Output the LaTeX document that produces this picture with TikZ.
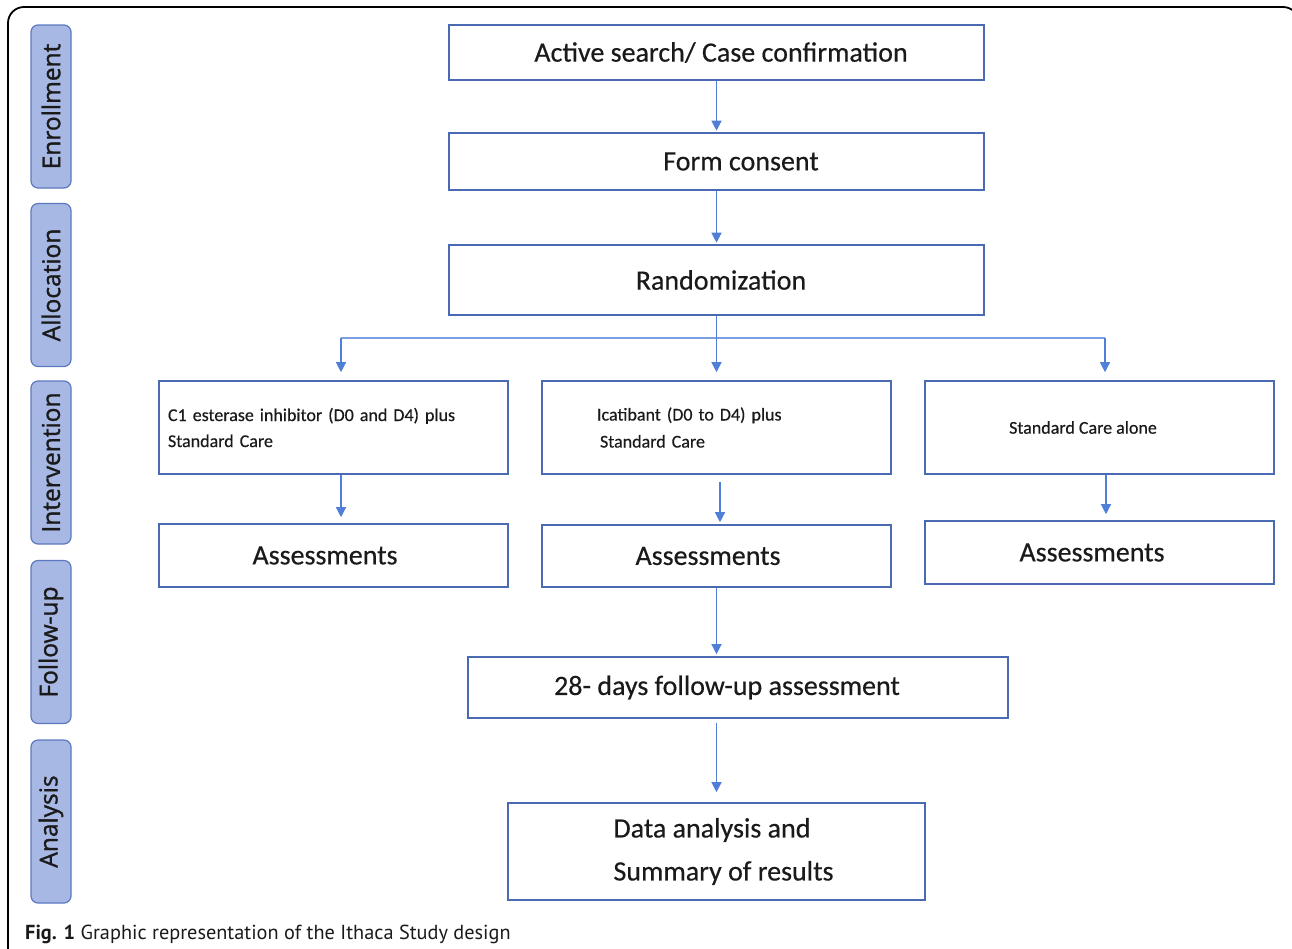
\documentclass[tikz,border=0pt]{standalone}
\usepackage{fontspec}
\setmainfont{Carlito}[FakeBold=0.4]
\newfontfamily\sidefont{Open Sans}[FakeBold=1.2]
\newfontfamily\capfont{PT Sans}
\usetikzlibrary{arrows.meta}
\definecolor{boxblue}{HTML}{4A6BB3}
\definecolor{arrblue}{HTML}{4F7FD6}
\definecolor{sidefill}{HTML}{A7B8E4}
\definecolor{sidedraw}{HTML}{5C78BE}
\definecolor{txt}{HTML}{1A1A1A}
\begin{document}
\begin{tikzpicture}[x=1pt,y=-1pt,
  mbox/.style={draw=boxblue, line width=1.6pt, fill=white, inner sep=0pt, text=txt,
    font=\fontsize{28}{34}\selectfont},
  sbox/.style={draw=boxblue, line width=1.6pt, fill=white, inner sep=0pt, text=txt,
    font=\fontsize{18}{26}\selectfont},
  side/.style={draw=sidedraw, fill=sidefill, rounded corners=7pt, line width=1.2pt,
    minimum width=163pt, minimum height=40pt, inner sep=0pt, rotate=90,
    text=txt, font=\sidefont\fontsize{24.5}{28}\selectfont},
  arr/.style={draw=arrblue, line width=1.3pt, -{Triangle[length=10pt,width=10pt]}},
  link/.style={draw=arrblue!75, line width=1.3pt}
]
\useasboundingbox (0,0) rectangle (1292,948);
\begin{scope}
\clip (0,0) rectangle (1292,948);
\draw[line width=1.8pt, rounded corners=16pt] (8,7) rectangle (1299,975);
\end{scope}

% side labels
\node[side] (enr) at (51,106.5) {Enrollment};
\node[side] (alo) at (51,285) {Allocation};
\node[side] (int) at (51,462.5) {Intervention};
\node[side] (fol) at (51,642) {Follow-up};
\node[side] (ana) at (51,821.5) {Analysis};

% main boxes
\node[mbox, minimum width=535pt, minimum height=55pt] (act) at (716.5,52.5)
  {\hspace*{9pt}Active search/ Case confirmation};
\node[mbox, minimum width=535pt, minimum height=57pt] (form) at (716.5,161.5)
  {\hspace*{49pt}Form consent};
\node[mbox, minimum width=535pt, minimum height=70pt] (rand) at (716.5,280)
  {\hspace*{9pt}Randomization\\[8pt]};

\node[sbox, minimum width=349pt, minimum height=93pt, text width=331pt, align=left] (c1) at (333.5,427.5)
  {C1 esterase inhibitor (D0 and D4) plus\\Standard Care};
\node[sbox, minimum width=349pt, minimum height=93pt, text width=331pt, align=left] (c2) at (716.5,427.5)
  {\hspace*{46pt}Icatibant (D0 to D4) plus\\[1pt]\hspace*{49pt}Standard Care};
\node[sbox, minimum width=349pt, minimum height=93pt] (c3) at (1099.5,427.5)
  {Standard Care alone\hspace*{33pt}};

\node[mbox, minimum width=349pt, minimum height=63pt] (a1) at (333.5,555.5)
  {Assessments\hspace*{17pt}};
\node[mbox, minimum width=349pt, minimum height=62pt] (a2) at (716.5,556)
  {Assessments\hspace*{17pt}};
\node[mbox, minimum width=349pt, minimum height=63pt] (a3) at (1099.5,552.5)
  {Assessments\hspace*{15pt}};

\node[mbox, minimum width=540pt, minimum height=61pt] (f28) at (738,687.5)
  {28- days follow-up assessment\hspace*{22pt}};

\node[mbox, minimum width=417pt, minimum height=97pt, align=left,
  font=\fontsize{28}{43}\selectfont] (da) at (716.5,851.5)
  {\hspace*{14pt}Data analysis and\\\hspace*{14pt}Summary of results};

% connectors
\draw[arr, shorten >=1.5pt] (act.south) -- (form.north);
\draw[arr, shorten >=1.5pt] (form.south) -- (rand.north);

\coordinate (jl) at (341,338);
\coordinate (jr) at (1105,338);
\draw[link] (jl) -- (jr);
\draw[arr, shorten >=8pt] (rand.south) -- (c2.north);
\draw[arr, shorten >=8pt] (jl) -- (jl |- c1.north);
\draw[arr, shorten >=8pt] (jr) -- (jr |- c3.north);

\draw[arr, shorten >=6pt] ([xshift=7.5pt]c1.south) -- ([xshift=7.5pt]a1.north);
\draw[arr, shorten <=7pt, shorten >=2pt] ([xshift=3.5pt]c2.south) -- ([xshift=3.5pt]a2.north);
\draw[arr, shorten >=6pt] ([xshift=6.5pt]c3.south) -- ([xshift=6.5pt]a3.north);

\draw[arr, shorten >=2pt] (a2.south) -- (a2.south |- f28.north);
\draw[arr, shorten <=4pt, shorten >=10pt] (da.north |- f28.south) -- (da.north);

% caption
\node[anchor=base west, inner sep=0pt, text=txt, font=\capfont\fontsize{20.3}{24}\selectfont] (cap) at (25,939)
  {\textbf{Fig. 1} Graphic representation of the Ithaca Study design};
\end{tikzpicture}
\end{document}
